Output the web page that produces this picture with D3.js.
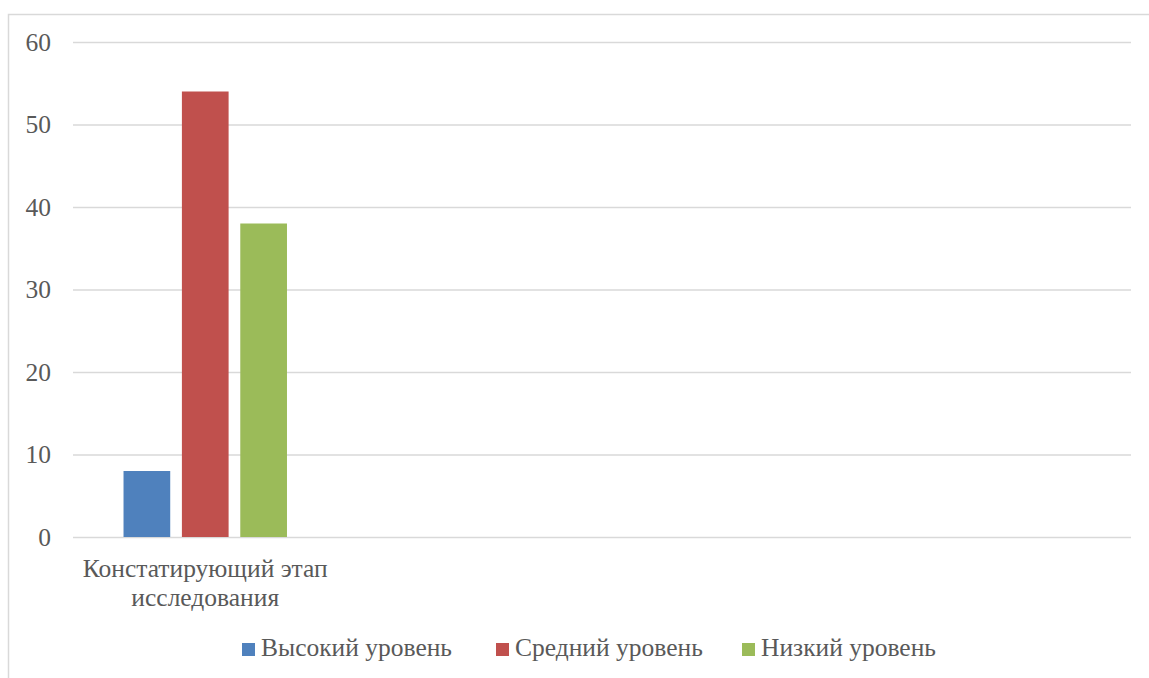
<!DOCTYPE html>
<html><head><meta charset="utf-8">
<script src="https://cdn.jsdelivr.net/npm/d3@7/dist/d3.min.js"></script>
<style>body{margin:0;background:#fff}svg{display:block}text{font-family:"Liberation Serif","DejaVu Serif",serif;fill:#595959}</style>
</head><body><svg id="c" width="1149" height="678"></svg>
<script>
const categories = [["Констатирующий этап", "исследования"], [], [], []];
const seriesNames = ["Высокий уровень", "Средний уровень", "Низкий уровень"];
const seriesColors = ["#4f81bd", "#c0504d", "#9bbb59"];
const values = [[8, 54, 38], [null, null, null], [null, null, null], [null, null, null]];
const yTicks = [0, 10, 20, 30, 40, 50, 60];

const FS = 25.5;
const svg = d3.select("#c");
// chart border
svg.append("rect").attr("x", 8.5).attr("y", 14.5).attr("width", 1160).attr("height", 700)
  .attr("fill", "none").attr("stroke", "#d9d9d9").attr("stroke-width", 1.5);

const plotL = 73, plotR = 1131, plotT = 42, plotB = 537;
const y = d3.scaleLinear().domain([0, 60]).range([plotB, plotT]);
const x0 = d3.scaleBand().domain(d3.range(categories.length)).range([plotL, plotR]).paddingInner(0).paddingOuter(0);
const bw = x0.bandwidth();
const x1 = d3.scaleBand().domain(d3.range(seriesNames.length)).range([bw * 0.191, bw * 0.809]).paddingInner(0.2).paddingOuter(0);

// gridlines
const yAxis = d3.axisLeft(y).tickValues(yTicks).tickSize(-(plotR - plotL)).tickPadding(22).tickFormat(d3.format("d"));
const gy = svg.append("g").attr("transform", `translate(${plotL},0)`).call(yAxis);
gy.select(".domain").remove();
gy.selectAll(".tick line").attr("stroke", "#d9d9d9").attr("stroke-width", 1.5);
gy.selectAll(".tick text").attr("font-size", FS).attr("dy", "0.32em")
  .style("fill", "#595959").attr("font-family", "Liberation Serif");

// bars
const groups = svg.append("g").selectAll("g").data(values).join("g")
  .attr("transform", (d, i) => `translate(${x0(i)},0)`);
groups.selectAll("rect").data(d => d.map((v, j) => ({v, j})).filter(e => e.v !== null)).join("rect")
  .attr("x", e => x1(e.j)).attr("width", x1.bandwidth())
  .attr("y", e => y(e.v)).attr("height", e => y(0) - y(e.v))
  .attr("fill", e => seriesColors[e.j]);

// category labels
categories.forEach((lines, i) => {
  lines.forEach((ln, k) => {
    svg.append("text").attr("x", x0(i) + bw / 2).attr("y", 577 + k * 29)
      .attr("text-anchor", "middle").attr("font-size", FS).text(ln);
  });
});

// legend
const legendX = [242, 496, 742];
const lg = svg.append("g");
seriesNames.forEach((n, i) => {
  lg.append("rect").attr("x", legendX[i]).attr("y", 643).attr("width", 13).attr("height", 13).attr("fill", seriesColors[i]);
  lg.append("text").attr("x", legendX[i] + 19).attr("y", 656).attr("font-size", FS).text(n);
});
</script></body></html>
